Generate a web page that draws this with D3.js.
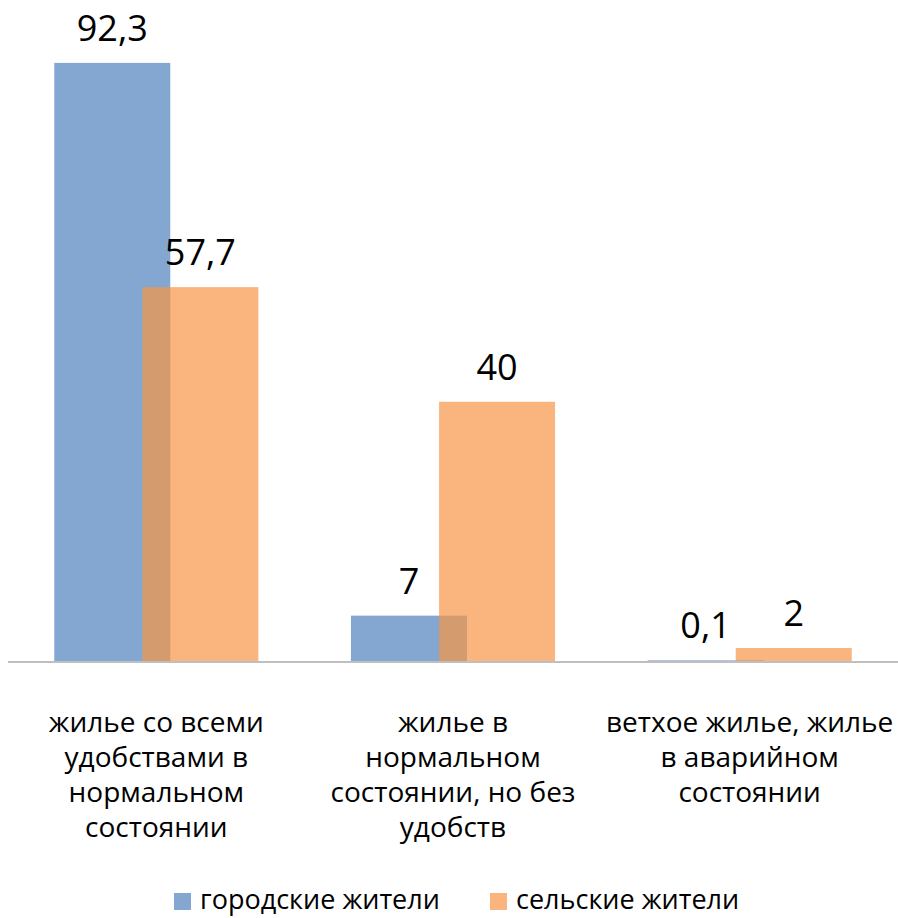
<!DOCTYPE html>
<html>
<head>
<meta charset="utf-8">
<script src="https://d3js.org/d3.v7.min.js"></script>
<style>
  body { margin: 0; background: #fff; }
  text { font-family: "Open Sans", sans-serif; fill: #000; }
</style>
</head>
<body>
<div id="chart"></div>
<script>
// Data
const categories = ["cat1", "cat2", "cat3"];
const categoryLines = [
    ["жилье со всеми", "удобствами в", "нормальном", "состоянии"],
    ["жилье в", "нормальном", "состоянии, но без", "удобств"],
    ["ветхое жилье, жилье", "в аварийном", "состоянии"]
];
const seriesNames = ["городские жители", "сельские жители"];
const urban = [92.3, 7, 0.1];
const rural = [57.7, 40, 2];
const seriesColors = ["#4F81BD", "#F79646"];

// Sizing
const WIDTH = 898;
const HEIGHT = 918;
const plotLeft = 8, plotRight = 898;
const baseY = 661;

const svg = d3.select("#chart")
    .append("svg")
    .attr("width", WIDTH)
    .attr("height", HEIGHT);

const x = d3.scaleBand()
    .domain(categories)
    .range([plotLeft, plotRight]);

const y = d3.scaleLinear()
    .domain([0, 100])
    .range([baseY, 13]);

const bw = x.bandwidth();
const barW = bw * 0.391;
const shift = bw * 0.297;
const center = c => x(c) + bw / 2;

const fmt = v => String(v).replace(".", ",");

// - - Bars - -
const series = [urban, rural];
const offsetOf = s => -(barW + shift) / 2 + s * shift;

series.forEach((vals, s) => {
    svg.append("g")
        .selectAll("rect")
        .data(vals)
        .enter()
        .append("rect")
            .attr("x", (d, i) => center(categories[i]) + offsetOf(s))
            .attr("y", d => y(d))
            .attr("width", barW)
            .attr("height", d => baseY - y(d))
            .attr("fill", seriesColors[s])
            .attr("fill-opacity", 0.7);
});

// Axis line
svg.append("line")
    .attr("x1", plotLeft).attr("x2", plotRight)
    .attr("y1", baseY + 1).attr("y2", baseY + 1)
    .attr("stroke", "#bfbfbf")
    .attr("stroke-width", 2);

// - - Value labels - -
series.forEach((vals, s) => {
    svg.append("g")
        .selectAll("text")
        .data(vals)
        .enter()
        .append("text")
            .attr("x", (d, i) => center(categories[i]) + offsetOf(s) + barW / 2)
            .attr("y", d => y(d) - 22)
            .attr("text-anchor", "middle")
            .attr("font-size", 36)
            .text(d => fmt(d));
});

// - - Category labels - -
categories.forEach((c, i) => {
    const t = svg.append("text")
        .attr("text-anchor", "middle")
        .attr("font-size", 28);
    categoryLines[i].forEach((line, j) => {
        t.append("tspan")
            .attr("x", center(c))
            .attr("y", 732 + j * 35)
            .text(line);
    });
});

// - - Legend - -
const legendX = [174, 490];
seriesNames.forEach((name, s) => {
    svg.append("rect")
        .attr("x", legendX[s])
        .attr("y", 893)
        .attr("width", 17)
        .attr("height", 17)
        .attr("fill", seriesColors[s])
        .attr("fill-opacity", 0.7);
    svg.append("text")
        .attr("x", legendX[s] + 26)
        .attr("y", 909)
        .attr("font-size", 27)
        .text(name);
});
</script>
</body>
</html>
